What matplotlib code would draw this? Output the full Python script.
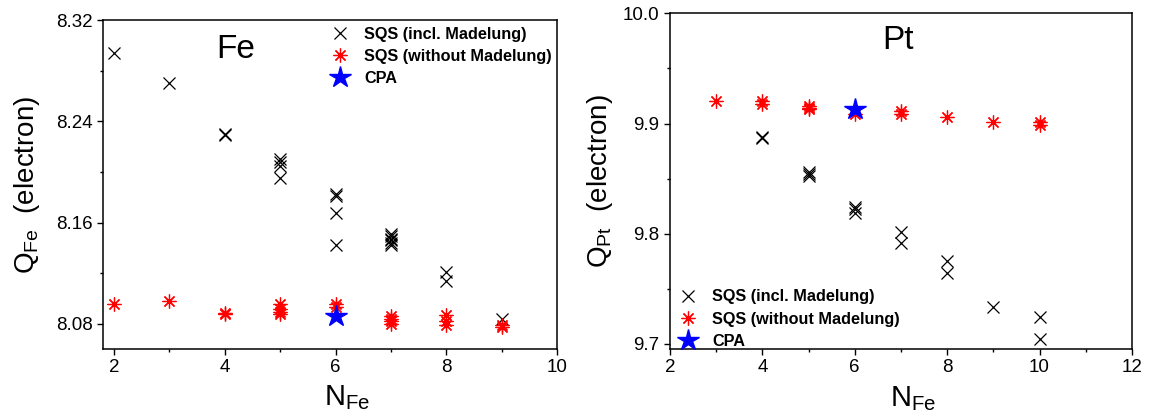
import matplotlib
matplotlib.use('Agg')
import matplotlib.pyplot as plt
from matplotlib.ticker import MultipleLocator, FormatStrFormatter

plt.rcParams['font.family'] = ['Liberation Sans', 'DejaVu Sans']

# Fe site charge vs number of Fe neighbours
fe_n_incl = [2, 3, 4, 4, 5, 5, 5, 5, 6, 6, 6, 6, 7, 7, 7, 7, 7, 7, 8, 8, 9]
fe_q_incl = [8.2944, 8.2707, 8.2302, 8.2289, 8.210, 8.208, 8.205, 8.195,
             8.1825, 8.1806, 8.1675, 8.1425, 8.151, 8.149, 8.147, 8.146,
             8.144, 8.142, 8.1206, 8.1135, 8.0837]
fe_n_wo = [2, 3, 4, 4, 5, 5, 5, 5, 6, 6, 7, 7, 7, 7, 8, 8, 8, 9, 9]
fe_q_wo = [8.0956, 8.0982, 8.0885, 8.0878, 8.0955, 8.0920, 8.0895, 8.0877,
           8.0955, 8.0930, 8.0860, 8.0840, 8.0820, 8.0800, 8.0870, 8.0825,
           8.0792, 8.0792, 8.0772]
fe_n_cpa = [6]
fe_q_cpa = [8.0863]

# Pt site charge
pt_n_incl = [4, 4, 5, 5, 5, 6, 6, 6, 7, 7, 8, 8, 9, 10, 10]
pt_q_incl = [9.888, 9.887, 9.856, 9.854, 9.852, 9.824, 9.822, 9.819,
             9.801, 9.791, 9.775, 9.764, 9.733, 9.724, 9.704]
pt_n_wo = [3, 4, 4, 5, 5, 5, 6, 7, 7, 8, 9, 10, 10]
pt_q_wo = [9.920, 9.920, 9.918, 9.916, 9.914, 9.913, 9.909, 9.911, 9.909,
           9.906, 9.901, 9.901, 9.899]
pt_n_cpa = [6]
pt_q_cpa = [9.913]

labels = ['SQS (incl. Madelung)', 'SQS (without Madelung)', 'CPA']

fig = plt.figure(figsize=(11.49, 4.2), dpi=100)
ax1 = fig.add_axes([0.0897, 0.169, 0.395, 0.783])
ax2 = fig.add_axes([0.5831, 0.170, 0.402, 0.798])


def draw(ax, n_incl, q_incl, n_wo, q_wo, n_cpa, q_cpa):
    ax.plot(n_incl, q_incl, ls='none', marker='x', ms=9, mew=0.9,
            color='black', label=labels[0])
    ax.plot(n_wo, q_wo, ls='none', marker=(8, 2, 0), ms=10, mew=0.9,
            color='red', label=labels[1])
    ax.plot(n_cpa, q_cpa, ls='none', marker='*', ms=16, color='blue',
            label=labels[2])
    for s in ax.spines.values():
        s.set_linewidth(1.1)
    ax.tick_params(which='both', direction='out', top=False, right=False,
                   labelsize=13.5, width=1.0)
    ax.tick_params(which='major', length=4)
    ax.tick_params(which='minor', length=2.5)


leg_font = {'weight': 'bold', 'size': 11.7}

draw(ax1, fe_n_incl, fe_q_incl, fe_n_wo, fe_q_wo, fe_n_cpa, fe_q_cpa)
ax1.set_xlim(1.8, 10)
ax1.set_ylim(8.06, 8.32)
ax1.xaxis.set_major_locator(MultipleLocator(2))
ax1.xaxis.set_minor_locator(MultipleLocator(1))
ax1.yaxis.set_major_locator(MultipleLocator(0.08))
ax1.yaxis.set_minor_locator(MultipleLocator(0.04))
ax1.yaxis.set_major_formatter(FormatStrFormatter('%.2f'))
ax1.set_xlabel(r'N$_{\mathregular{Fe}}$', fontsize=21)
ax1.xaxis.set_label_coords(0.537, -0.105)
ax1.set_ylabel(r'Q$_{\mathregular{Fe}}$  (electron)', fontsize=20)
ax1.yaxis.set_label_coords(-0.134, 0.5)
ax1.text(0.293, 0.912, 'Fe', transform=ax1.transAxes, fontsize=24,
         ha='center', va='center')
ax1.legend(loc='upper left', bbox_to_anchor=(0.465, 1.009), frameon=False,
           prop=leg_font, handletextpad=0.5, labelspacing=0.42,
           borderaxespad=0.2)

draw(ax2, pt_n_incl, pt_q_incl, pt_n_wo, pt_q_wo, pt_n_cpa, pt_q_cpa)
ax2.set_xlim(2, 12)
ax2.set_ylim(9.6955, 10.0)
ax2.xaxis.set_major_locator(MultipleLocator(2))
ax2.xaxis.set_minor_locator(MultipleLocator(1))
ax2.yaxis.set_major_locator(MultipleLocator(0.1))
ax2.yaxis.set_minor_locator(MultipleLocator(0.05))
ax2.yaxis.set_major_formatter(FormatStrFormatter('%.1f'))
ax2.set_xlabel(r'N$_{\mathregular{Fe}}$', fontsize=21)
ax2.xaxis.set_label_coords(0.526, -0.105)
ax2.set_ylabel(r'Q$_{\mathregular{Pt}}$  (electron)', fontsize=20)
ax2.yaxis.set_label_coords(-0.12, 0.5)
ax2.text(0.494, 0.918, 'Pt', transform=ax2.transAxes, fontsize=24,
         ha='center', va='center')
ax2.legend(loc='lower left', bbox_to_anchor=(-0.018, -0.03), frameon=False,
           prop=leg_font, handletextpad=0.5, labelspacing=0.45,
           borderaxespad=0.2)

fig.savefig('out.png', dpi=100)
